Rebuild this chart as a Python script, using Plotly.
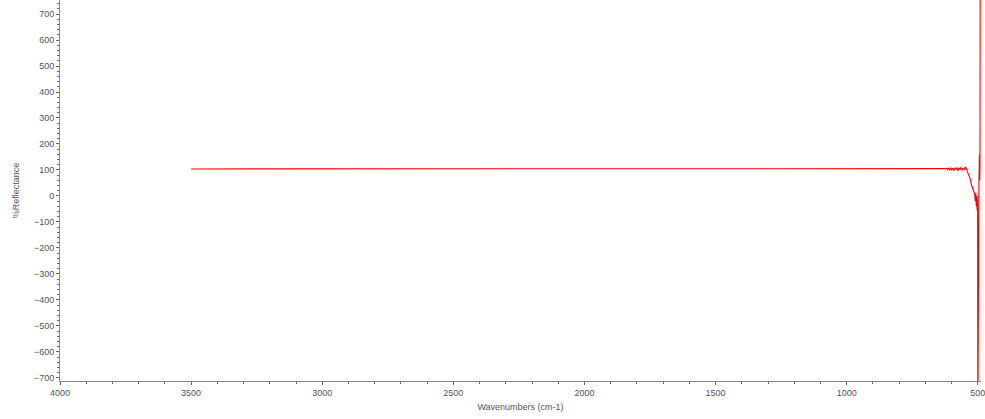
import plotly.graph_objects as go

wavenumbers = [3500, 625, 620, 616, 612, 608, 604, 600, 596, 592, 588, 584, 580, 576, 572,
               568, 564, 560, 556, 552, 548, 544, 540, 536, 532, 528, 524, 520, 516, 512,
               510, 508, 506, 504, 503, 502, 501, 500, 499, 498, 496, 494, 493, 492, 491, 490]
reflectance = [104, 104, 105, 102, 106, 101, 107, 100, 105, 98, 106, 102, 109, 97, 108,
               103, 110, 99, 106, 101, 112, 105, 94, 87, 77, 62, 42, 32, 17, 7,
               -20, 10, -40, 0, -55, -10, -60, -900, -900, -60, 40, 160, 60, 100, 900, 900]

x_tickvals = [4000, 3500, 3000, 2500, 2000, 1500, 1000, 500]
y_tickvals = list(range(-700, 701, 100))

fig = go.Figure()
fig.add_trace(go.Scatter(x=wavenumbers, y=reflectance, mode="lines",
                         line=dict(color="#ff0000", width=1.1), showlegend=False,
                         hoverinfo="skip"))

axis_font = dict(family="Liberation Sans, Arial, sans-serif", size=9, color="#555555")

fig.update_layout(
    width=985, height=419,
    margin=dict(l=60, r=2, t=0, b=38),
    paper_bgcolor="white", plot_bgcolor="white",
    xaxis=dict(range=[4000, 488], autorange=False, showgrid=False, zeroline=False,
               showline=True, linecolor="#8a8a8a", linewidth=1,
               tickmode="array", tickvals=x_tickvals,
               ticks="outside", ticklen=3, tickcolor="#666666",
               minor=dict(dtick=100, ticks="outside", ticklen=2, tickcolor="#666666"),
               tickfont=axis_font, ticklabeloverflow="allow",
               title=dict(text="Wavenumbers (cm-1)", font=axis_font, standoff=6)),
    yaxis=dict(range=[-712, 754], autorange=False, showgrid=False, zeroline=False,
               showline=True, linecolor="#8a8a8a", linewidth=1,
               tickmode="array", tickvals=y_tickvals,
               ticks="outside", ticklen=3, tickcolor="#666666",
               minor=dict(dtick=20, ticks="outside", ticklen=2, tickcolor="#666666"),
               tickfont=axis_font,
               title=dict(text="%Reflectance", font=axis_font, standoff=12)),
)

fig.write_html("out.html", config={"displayModeBar": False},
               post_script="document.body.style.margin='0';document.body.style.overflow='hidden';")
